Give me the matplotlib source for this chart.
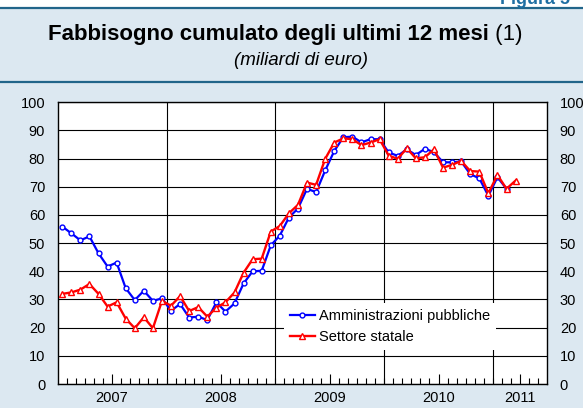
import numpy as np
from matplotlib import pyplot as plt
from matplotlib.lines import Line2D
from matplotlib.patches import Rectangle

# mesi da gennaio 2007; etichette degli anni a metà anno (2011 a metà del tratto visibile)
anni = ['2007', '2008', '2009', '2010', '2011']
pos_anni = [6, 18, 30, 42, 51]
inizio_anni = [12, 24, 36, 48]

amm_pubbliche = [
    55.9, 53.5, 51.0, 52.4, 46.4, 41.7, 43.1, 34.0, 29.8, 33.1, 29.5, 30.4,
    26.0, 28.4, 23.6, 23.9, 22.7, 29.0, 25.7, 28.6, 35.7, 40.0, 40.2, 49.2,
    52.7, 59.1, 62.3, 69.3, 68.1, 75.8, 82.7, 87.6, 87.8, 85.8, 86.9, 86.9,
    82.2, 81.0, 83.3, 81.3, 83.5, 82.3, 78.7, 78.7, 79.0, 74.5, 73.0, 66.8,
    73.4, 69.3,
]
settore_statale = [
    32.0, 32.5, 33.5, 35.5, 32.0, 27.5, 29.0, 23.2, 19.8, 23.7, 19.8, 29.5,
    27.8, 31.2, 25.9, 27.3, 23.9, 27.1, 29.0, 32.5, 39.5, 44.3, 44.5, 54.1,
    56.1, 60.6, 63.6, 71.5, 70.7, 79.9, 85.7, 87.2, 86.9, 84.8, 85.7, 86.9,
    81.1, 79.9, 83.7, 80.1, 80.5, 83.3, 76.8, 77.8, 79.2, 75.6, 75.4, 67.7,
    74.2, 69.3, 72.2,
]

plt.rcParams['font.family'] = ['Liberation Sans', 'DejaVu Sans']

celeste = '#dce8f1'
blu_scuro = '#21658a'
W, H = 583, 408

fig = plt.figure(figsize=(W / 100, H / 100), dpi=100, facecolor=celeste)

# striscia bianca in cima e filetti scuri del riquadro
fig.add_artist(Rectangle((0, 1 - 7.5 / H), 1, 7.5 / H, transform=fig.transFigure,
                         facecolor='white', edgecolor='none', zorder=0))
for yy in [1 - 7.5 / H, 1 - 81.5 / H]:
    fig.add_artist(Line2D([0, 1], [yy, yy], transform=fig.transFigure,
                          color=blu_scuro, lw=1.6))

fig.text(500 / W, 1 - 3.5 / H, 'Figura 5', color='#1f6fa3', fontweight='bold',
         fontsize=13, ha='left', va='baseline')

titolo = fig.text(48 / W, 1 - 40 / H, 'Fabbisogno cumulato degli ultimi 12 mesi',
                  fontsize=16, fontweight='bold', ha='left', va='baseline')
fig.text(301 / W, 1 - 65 / H, '(miliardi di euro)', fontsize=13.5, style='italic',
         ha='center', va='baseline')

ax = fig.add_axes([57.7 / W, 24 / H, 489.6 / W, 281.7 / H])
ax.annotate(' (1)', xy=(1, 0), xycoords=titolo, fontsize=16,
            ha='left', va='bottom', annotation_clip=False)

ax.set_facecolor('white')
ax.set_xlim(0, 54)
ax.set_ylim(0, 100)

ax.set_yticks(range(0, 101, 10))
ax.grid(axis='y', color='black', lw=0.8)
for a in inizio_anni:
    ax.axvline(a, color='black', lw=0.8, zorder=1.5)

ax.tick_params(axis='y', length=0, pad=9, labelsize=10.5, labelright=True)
ax.set_xticks(pos_anni, anni)
ax.set_xticks(np.arange(1, 54), minor=True)
ax.tick_params(axis='x', which='major', direction='in', length=7, width=0.8,
               pad=5, labelsize=10.5)
ax.tick_params(axis='x', which='minor', direction='in', length=4, width=0.8)
for s in ax.spines.values():
    s.set_color('black')
    s.set_linewidth(1)

x_amm = np.arange(len(amm_pubbliche)) + 0.5
x_set = np.arange(len(settore_statale)) + 0.5
ax.plot(x_amm, amm_pubbliche, color='#0000ff', lw=1.6, marker='o', ms=3.5,
        mfc='white', mec='#0000ff', mew=1, label='Amministrazioni pubbliche', zorder=3)
ax.plot(x_set, settore_statale, color='#ff0000', lw=1.7, marker='^', ms=4.5,
        mfc='white', mec='#ff0000', mew=1, label='Settore statale', zorder=4)

ax.legend(loc='upper left', bbox_to_anchor=(0.462, 0.2875), frameon=True,
          fancybox=False, edgecolor='none', facecolor='white', framealpha=1,
          fontsize=10.5, handlelength=1.7, handletextpad=0.3, borderpad=0.4,
          labelspacing=0.5, numpoints=1, borderaxespad=0)

fig.savefig('out.png', dpi=100, facecolor=celeste)
